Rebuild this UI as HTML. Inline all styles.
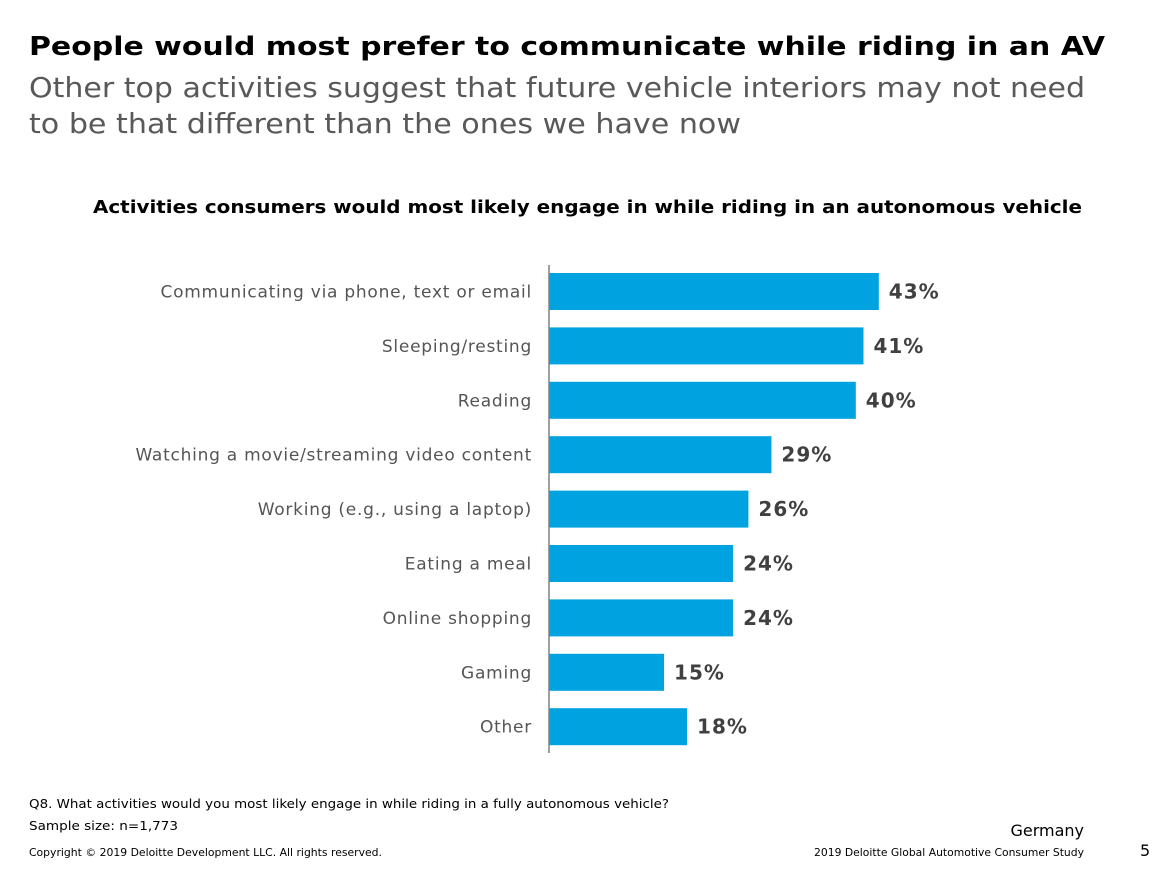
<!DOCTYPE html>
<html><head><meta charset="utf-8"><style>
html,body{margin:0;padding:0;background:#fff;}
svg{display:block;font-family:"DejaVu Sans","Liberation Sans",sans-serif;}
</style></head><body>
<svg id="chart" width="1165" height="874" viewBox="0 0 1165 874">
<text x="29" y="55" font-size="26" font-weight="bold" fill="#000" textLength="1076" lengthAdjust="spacingAndGlyphs">People would most prefer to communicate while riding in an AV</text>
<text x="29" y="97" font-size="28" fill="#595959" textLength="1056" lengthAdjust="spacingAndGlyphs">Other top activities suggest that future vehicle interiors may not need</text>
<text x="29" y="133" font-size="28" fill="#595959" textLength="712" lengthAdjust="spacingAndGlyphs">to be that different than the ones we have now</text>
<text x="93" y="213" font-size="18" font-weight="bold" fill="#000" textLength="989" lengthAdjust="spacingAndGlyphs">Activities consumers would most likely engage in while riding in an autonomous vehicle</text>
<g id="bars"></g>
<line x1="549" y1="265" x2="549" y2="753" stroke="#808080" stroke-width="1.5"/>
<text x="29" y="808" font-size="12" fill="#000" textLength="640" lengthAdjust="spacingAndGlyphs">Q8. What activities would you most likely engage in while riding in a fully autonomous vehicle?</text>
<text x="29" y="830" font-size="12" fill="#000" textLength="149" lengthAdjust="spacingAndGlyphs">Sample size: n=1,773</text>
<text x="29" y="856" font-size="11" fill="#000" textLength="353" lengthAdjust="spacingAndGlyphs">Copyright © 2019 Deloitte Development LLC. All rights reserved.</text>
<text x="1084" y="836" font-size="16" fill="#000" text-anchor="end">Germany</text>
<text x="1084" y="856" font-size="11" fill="#000" text-anchor="end" textLength="270" lengthAdjust="spacingAndGlyphs">2019 Deloitte Global Automotive Consumer Study</text>
<text x="1140" y="856" font-size="16" fill="#000">5</text>
</svg>
<script>
const categories = ["Communicating via phone, text or email","Sleeping/resting","Reading","Watching a movie/streaming video content","Working (e.g., using a laptop)","Eating a meal","Online shopping","Gaming","Other"];
const values = [43,41,40,29,26,24,24,15,18];
const valueLabels = ["43%","41%","40%","29%","26%","24%","24%","15%","18%"];

const NS = "http://www.w3.org/2000/svg";
const x0 = 549, pxPerPct = 7.67;
const xScale = v => x0 + v * pxPerPct;
const yTop = 273, pitch = 54.4, barH = 37;
const yScale = i => yTop + i * pitch;
const g = document.getElementById("bars");
categories.forEach((c, i) => {
  const y = yScale(i);
  const r = document.createElementNS(NS, "rect");
  r.setAttribute("x", x0);
  r.setAttribute("y", y);
  r.setAttribute("width", xScale(values[i]) - x0);
  r.setAttribute("height", barH);
  r.setAttribute("fill", "#00A3E0");
  
  
  g.appendChild(r);
  const l = document.createElementNS(NS, "text");
  l.setAttribute("x", 532);
  l.setAttribute("y", y + barH / 2 + 6);
  l.setAttribute("text-anchor", "end");
  l.setAttribute("font-size", "17");
  l.setAttribute("letter-spacing", "0.75");
  l.setAttribute("fill", "#555");
  l.textContent = c;
  
  
  g.appendChild(l);
  const v = document.createElementNS(NS, "text");
  v.setAttribute("x", xScale(values[i]) + 10);
  v.setAttribute("y", y + barH / 2 + 7);
  v.setAttribute("font-size", "20");
  v.setAttribute("letter-spacing", "1");
  v.setAttribute("font-weight", "bold");
  v.setAttribute("fill", "#404040");
  v.textContent = valueLabels[i];
  
  
  g.appendChild(v);
});
</script>
</body></html>
